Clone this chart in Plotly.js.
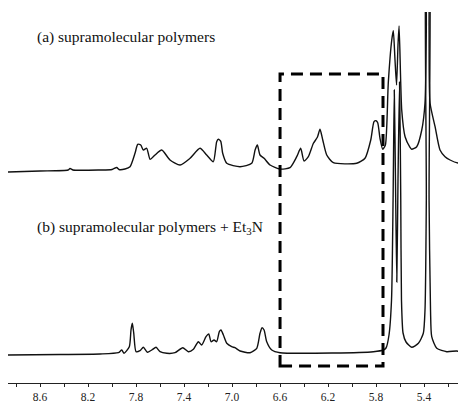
<!DOCTYPE html>
<html>
<head>
<meta charset="utf-8">
<script src="https://cdn.plot.ly/plotly-3.0.1.min.js"></script>
<style>html,body{margin:0;padding:0;background:#fff;}#chart{width:460px;height:403px;}</style>
</head>
<body>
<div id="chart"></div>
<script>
// Chemical shift (ppm) and intensity
const ppmA = [8.867,8.6,8.367,8.35,8.325,8.1,8.0,7.961,7.942,7.892,7.85,7.808,7.786,7.761,7.739,7.711,7.683,7.642,7.586,7.517,7.433,7.35,7.267,7.211,7.156,7.128,7.114,7.094,7.078,7.044,6.933,6.836,6.808,6.789,6.767,6.733,6.683,6.6,6.517,6.461,6.428,6.4,6.364,6.322,6.289,6.267,6.244,6.211,6.156,5.961,5.892,5.844,5.817,5.8,5.786,5.767,5.744,5.722,5.698,5.669,5.656,5.642,5.629,5.617,5.608,5.586,5.558,5.517,5.503,5.461,5.419,5.392,5.381,5.375,5.363,5.358,5.35,5.308,5.267,5.225,5.183,5.117,5.1];
const intA = [-2,-1,0,1.5,0,0,0.5,2.5,0.5,1,3.3,17,25.7,25,20,21.7,10.7,15,20,10,5,11.7,21.7,15,8.3,28.3,30.7,28.7,16.7,6.7,3.3,6.7,20,25,15,11.7,5,1,2.3,13.3,21.7,9,13.3,26.7,32.7,40.7,30,15,7.3,6.7,11.7,30,48.3,49.3,47.3,31.7,20.7,25,87,130,139.3,110,85,125,144,60,33.3,22.7,20.7,23.3,40,67,140,470,470,140,67,43.3,20,13.3,10,7,7];

const ppmB = [8.867,8.433,8.1,7.947,7.919,7.9,7.856,7.842,7.831,7.819,7.8,7.767,7.739,7.706,7.669,7.633,7.6,7.544,7.475,7.411,7.364,7.322,7.281,7.253,7.217,7.194,7.175,7.15,7.128,7.106,7.092,7.072,7.044,7.003,6.975,6.933,6.85,6.794,6.767,6.75,6.733,6.711,6.669,6.6,6.156,5.822,5.739,5.717,5.692,5.671,5.658,5.648,5.638,5.627,5.617,5.604,5.594,5.588,5.575,5.55,5.503,5.447,5.406,5.392,5.381,5.375,5.363,5.358,5.346,5.336,5.294,5.211,5.128,5.1];
const intB = [-1,-0.5,0,1.3,4,0.7,7.3,24,30.7,20.7,2.3,3.3,6.7,1.7,4,6.7,2.3,0.7,1.3,6.3,2.3,4.7,12.3,9,17.3,20,12.3,14,12.3,22.3,24,19,10.7,7.3,6.3,3,1.3,5.7,20.7,26.3,24,12.3,4,1.3,1,2.3,4,6,19,54,154,264,174,72,174,272,154,54,21,12,6.7,10.7,20.7,44,154,454,454,154,44,17.3,5.7,2.3,3,2];

const tickLabels = ["8.6","8.2","7.8","7.4","7.0","6.6","6.2","5.8","5.4"];
const tickPos = tickLabels.map(Number);

const labelA = "(a) supramolecular polymers";
const labelB = "(b) supramolecular polymers + Et<sub>3</sub>N";

// layout/offsets (stacking)
const offA = 213, offB = 29;
const serif = 'Liberation Serif';

const traces = [
  {x: ppmA, y: intA.map(v => v + offA), type: 'scatter', mode: 'lines',
   line: {color: '#111', width: 1.4, shape: 'spline', smoothing: 0.6}, hoverinfo: 'skip'},
  {x: ppmB, y: intB.map(v => v + offB), type: 'scatter', mode: 'lines',
   line: {color: '#111', width: 1.4, shape: 'spline', smoothing: 0.6}, hoverinfo: 'skip'}
];

const layout = {
  width: 460, height: 403,
  margin: {l: 8, r: 2, t: 12, b: 20, pad: 0},
  paper_bgcolor: '#fff', plot_bgcolor: '#fff',
  showlegend: false,
  font: {family: serif, color: '#222', size: 11},
  xaxis: {
    range: [8.867, 5.117],
    tickvals: tickPos, ticktext: tickLabels,
    ticks: 'outside', ticklen: 3, tickwidth: 1, tickcolor: '#222',
    minor: {dtick: 0.2, tick0: 8.6, ticks: 'outside', ticklen: 3, tickwidth: 1, tickcolor: '#222'},
    showline: true, linecolor: '#222', linewidth: 1,
    showgrid: false, zeroline: false,
    tickfont: {size: 11.5, family: serif, color: '#222'}
  },
  yaxis: {range: [0, 371], visible: false, showgrid: false, zeroline: false},
  shapes: [{
    type: 'rect', xref: 'x', yref: 'y',
    x0: 6.6, x1: 5.742, y0: 17, y1: 309,
    line: {color: '#000', width: 3, dash: '12px,7px'},
    fillcolor: 'rgba(0,0,0,0)'
  }],
  annotations: [
    {text: labelA, xref: 'paper', yref: 'paper', x: 0.06, y: 0.933,
     xanchor: 'left', yanchor: 'middle', showarrow: false,
     font: {size: 15.5, family: serif, color: '#111'}},
    {text: labelB, xref: 'paper', yref: 'paper', x: 0.06, y: 0.42,
     xanchor: 'left', yanchor: 'middle', showarrow: false,
     font: {size: 15.5, family: serif, color: '#111'}}
  ]
};

Plotly.newPlot('chart', traces, layout, {staticPlot: true, displayModeBar: false});
</script>
</body>
</html>
